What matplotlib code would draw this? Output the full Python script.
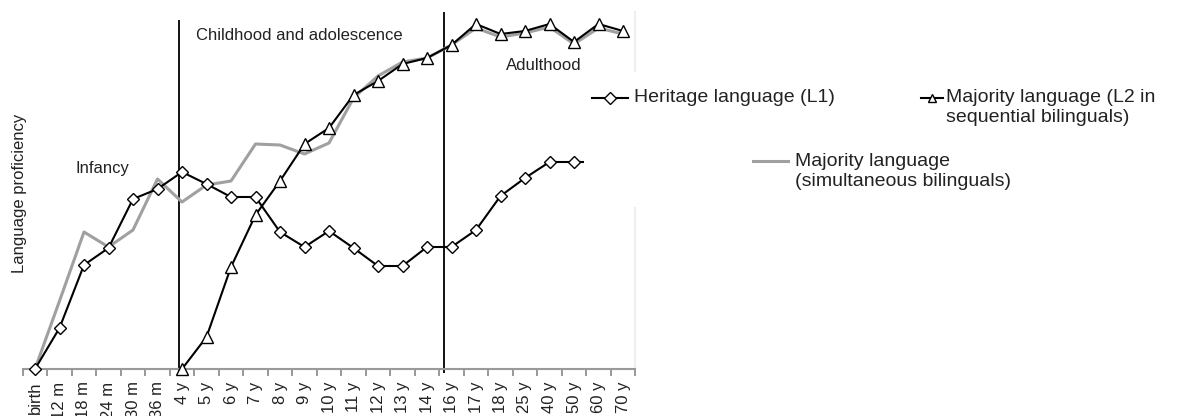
import numpy as np
import matplotlib.pyplot as plt
from matplotlib.lines import Line2D
from matplotlib.patches import Rectangle

plt.rcParams['font.family'] = ['Liberation Sans', 'DejaVu Sans']

# age categories on the x axis
ages = ['birth', '12 m', '18 m', '24 m', '30 m', '36 m', '4 y', '5 y', '6 y', '7 y',
        '8 y', '9 y', '10 y', '11 y', '12 y', '13 y', '14 y', '16 y', '17 y', '18 y',
        '25 y', '40 y', '50 y', '60 y', '70 y']

# proficiency (arbitrary units)
heritage_l1 = [0, 41, 104, 121, 170, 180, 197, 185, 172, 172, 137, 122, 138, 121,
               103, 103, 122, 122, 139, 173, 191, 207, 207, 207, 207]
majority_seq = [np.nan] * 6 + [0, 32, 102, 154, 188, 225, 241, 274, 288, 305, 311,
                               324, 345, 335, 338, 345, 327, 345, 338]
majority_sim = [0, 68, 137, 122, 139, 190, 167, 184, 188, 225, 224, 215, 226, 271,
                293, 307, 311, 324, 341, 332, 336, 342, 325, 341, 335]

# period boundaries
bounds = [5.86, 16.69]

W, H = 1181, 416
fig = plt.figure(figsize=(W / 100, H / 100), dpi=100)
ax = fig.add_axes([22.75 / W, 47 / H, 612.5 / W, 357 / H])

x = np.arange(len(ages))

ax.vlines(bounds[0], -4, 349, color='black', lw=1.3, zorder=1, clip_on=False)
ax.vlines(bounds[1], -4, 357, color='black', lw=1.3, zorder=1, clip_on=False)

ax.plot(x, majority_sim, color='#a0a0a0', lw=2.2, zorder=2, clip_on=False)
ax.plot(x, heritage_l1, color='black', lw=1.5, marker='D', ms=6, mfc='white',
        mec='black', mew=1, zorder=3, clip_on=False)
ax.plot(x, majority_seq, color='black', lw=1.5, marker='^', ms=8, mfc='white',
        mec='black', mew=1, zorder=4, clip_on=False)

ax.set_xlim(-0.5, 24.5)
ax.set_ylim(0, 357)
ax.set_yticks([])
ax.set_xticks(x, ages, rotation=90)
ax.set_xticks(np.arange(-0.5, 25, 1), minor=True)
ax.tick_params(axis='x', which='major', length=0, pad=9, labelsize=12,
               labelcolor='#222222')
ax.tick_params(axis='x', which='minor', length=5, width=1.2, color='#888888')

for s in ['left', 'top']:
    ax.spines[s].set_visible(False)
ax.spines['right'].set_color('#eeeeee')
ax.spines['right'].set_linewidth(1.5)
ax.spines['bottom'].set_color('#999999')
ax.spines['bottom'].set_linewidth(1.5)

ax.text(6.57, 334, 'Childhood and adolescence', fontsize=12, color='#222222', va='center')
ax.text(1.67, 201, 'Infancy', fontsize=12, color='#222222', va='center')
ax.text(19.22, 304, 'Adulthood', fontsize=12, color='#222222', va='center')

fig.text(20 / W, 1 - 193 / H, 'Language proficiency', rotation=90, fontsize=12,
         color='#222222', ha='center', va='center')


def fx(px):
    return px / W


def fy(py):
    return 1 - py / H


# legend box (white, covers the right end of the plot)
fig.add_artist(Rectangle((fx(584), fy(207)), fx(W) - fx(584), fy(72) - fy(207),
                         transform=fig.transFigure, facecolor='white',
                         edgecolor='none', zorder=5))

leg_fs = 14
fig.add_artist(Line2D([fx(592), fx(610), fx(628)], [fy(98)] * 3, transform=fig.transFigure,
                      color='black', lw=1.5, marker='D', markevery=[1], ms=6,
                      mfc='white', mec='black', mew=1, zorder=6))
fig.text(fx(634), fy(98), 'Heritage language (L1)', fontsize=leg_fs, color='#222222',
         va='center', zorder=6)

fig.add_artist(Line2D([fx(921), fx(932), fx(943)], [fy(98)] * 3, transform=fig.transFigure,
                      color='black', lw=1.5, marker='^', markevery=[1], ms=6,
                      mfc='white', mec='black', mew=1, zorder=6))
fig.text(fx(946), fy(98), 'Majority language (L2 in', fontsize=leg_fs, color='#222222',
         va='center', zorder=6)
fig.text(fx(946), fy(118), 'sequential bilinguals)', fontsize=leg_fs, color='#222222',
         va='center', zorder=6)

fig.add_artist(Line2D([fx(753), fx(788)], [fy(161)] * 2, transform=fig.transFigure,
                      color='#a0a0a0', lw=2.2, zorder=6))
fig.text(fx(795), fy(161), 'Majority language', fontsize=leg_fs, color='#222222',
         va='center', zorder=6)
fig.text(fx(795), fy(181), '(simultaneous bilinguals)', fontsize=leg_fs, color='#222222',
         va='center', zorder=6)

fig.savefig('out.png', dpi=100)
